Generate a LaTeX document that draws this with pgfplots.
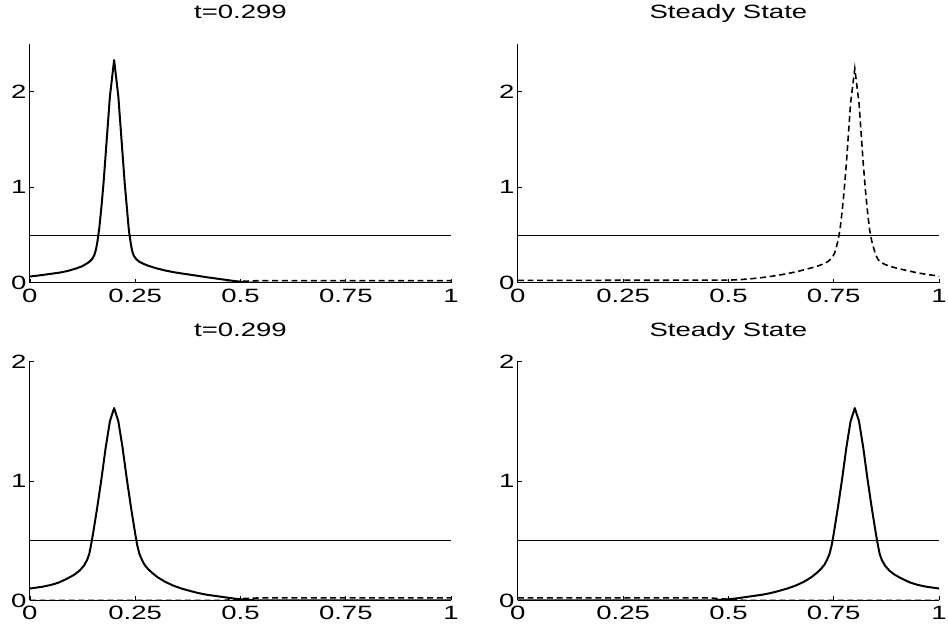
\documentclass[border=0pt]{standalone}
\usepackage{pgfplots}
\pgfplotsset{compat=1.18}
\usepackage{fontspec}
\setmainfont{Liberation Sans}[FakeStretch=1.43]

% solid: u, dashed: v
\pgfplotstableread{
x y
0.00 0.066
0.02 0.076
0.04 0.088
0.07 0.106
0.09 0.124
0.11 0.150
0.125 0.175
0.14 0.215
0.148 0.250
0.153 0.29
0.157 0.35
0.16 0.42
0.165 0.58
0.17 0.80
0.175 1.05
0.18 1.35
0.185 1.65
0.19 1.95
0.20 2.33
0.21 1.95
0.215 1.65
0.22 1.35
0.225 1.05
0.23 0.80
0.235 0.55
0.24 0.40
0.243 0.33
0.247 0.28
0.253 0.245
0.26 0.22
0.27 0.198
0.28 0.18
0.30 0.152
0.32 0.130
0.34 0.112
0.36 0.098
0.38 0.085
0.40 0.072
0.42 0.058
0.44 0.046
0.46 0.034
0.48 0.022
0.50 0.011
0.52 0.003
0.55 0
1.00 0
}\uTL
\pgfplotstableread{
x y
0.00 0
0.46 0
0.50 0.015
0.54 0.022
1.00 0.022
}\vTL
\pgfplotstableread{
x y
0.00 0
1.00 0
}\uTR
\pgfplotstableread{
x y
0.00 0.025
0.50 0.028
0.53 0.034
0.56 0.045
0.59 0.06
0.62 0.08
0.65 0.105
0.67 0.125
0.69 0.148
0.71 0.172
0.73 0.205
0.74 0.235
0.747 0.27
0.752 0.31
0.756 0.37
0.76 0.44
0.765 0.56
0.77 0.75
0.775 0.98
0.78 1.25
0.79 1.88
0.80 2.24
0.81 1.88
0.82 1.25
0.825 0.98
0.83 0.75
0.835 0.56
0.84 0.44
0.845 0.36
0.85 0.29
0.855 0.245
0.862 0.215
0.87 0.195
0.885 0.170
0.906 0.146
0.93 0.122
0.95 0.103
0.975 0.085
1.00 0.07
}\vTR
\pgfplotstableread{
x y
0.00 0.10
0.03 0.115
0.05 0.130
0.067 0.148
0.08 0.168
0.095 0.195
0.106 0.217
0.118 0.25
0.128 0.29
0.136 0.34
0.141 0.39
0.145 0.46
0.15 0.56
0.16 0.78
0.17 1.02
0.18 1.28
0.19 1.50
0.20 1.61
0.21 1.50
0.22 1.28
0.23 1.02
0.24 0.78
0.25 0.56
0.255 0.46
0.26 0.39
0.266 0.34
0.272 0.30
0.28 0.265
0.29 0.232
0.303 0.195
0.32 0.158
0.34 0.125
0.36 0.100
0.382 0.078
0.40 0.062
0.42 0.048
0.44 0.038
0.46 0.028
0.48 0.018
0.50 0.010
0.53 0.002
0.56 0
1.00 0
}\uBL
\pgfplotstableread{
x y
0.00 0
0.46 0
0.50 0.015
0.55 0.022
1.00 0.022
}\vBL
\pgfplotstableread{
x y
0.00 0
0.44 0
0.47 0.002
0.50 0.010
0.52 0.018
0.54 0.028
0.56 0.038
0.58 0.048
0.60 0.062
0.618 0.078
0.64 0.100
0.66 0.125
0.68 0.158
0.697 0.195
0.71 0.232
0.72 0.265
0.728 0.30
0.734 0.34
0.74 0.39
0.745 0.46
0.75 0.56
0.76 0.78
0.77 1.02
0.78 1.28
0.79 1.50
0.80 1.61
0.81 1.50
0.82 1.28
0.83 1.02
0.84 0.78
0.85 0.56
0.855 0.46
0.859 0.39
0.864 0.34
0.872 0.29
0.882 0.25
0.894 0.217
0.905 0.195
0.92 0.168
0.933 0.148
0.95 0.130
0.97 0.115
1.00 0.10
}\uBR
\pgfplotstableread{
x y
0.00 0.022
0.45 0.022
0.50 0.01
0.54 0
1.00 0
}\vBR

\pgfplotsset{
  pane/.style={
    scale only axis, width=317.25pt, height=180pt,
    anchor=north west,
    axis x line=bottom, axis y line=left,
    axis line style={-, line width=0.6pt},
    xmin=0, xmax=1, ymin=0,
    xtick={0,0.25,0.5,0.75,1},
    xticklabels={0,0.25,0.5,0.75,1},
    ytick={0,1,2},
    tick align=inside, major tick length=3pt,
    tick style={black, line width=0.5pt},
    /pgf/number format/assume math mode=true,
    ticklabel style={font=\fontsize{14.5}{17}\selectfont},
    xticklabel style={yshift=-1pt},
    yticklabel style={xshift=1pt},
    title style={at={(0.5,1)}, anchor=base, yshift=12.75pt,
      font=\fontsize{14.5}{17}\selectfont},
  },
  ucurve/.style={black, line width=1.5pt, line join=round},
  vcurve/.style={black, line width=1.2pt, dash pattern=on 4.5pt off 2.8pt},
  hline/.style={black, line width=0.6pt},
}

\begin{document}
\begin{tikzpicture}
\useasboundingbox (0,0) rectangle (714pt,-470.25pt);

\begin{axis}[pane, at={(22.5pt,-33pt)}, ymax=2.5, title={t=0.299}]
\addplot[hline] coordinates {(0,0.5) (1,0.5)};
\addplot[vcurve] table {\vTL};
\addplot[ucurve] table {\uTL};
\end{axis}

\begin{axis}[pane, at={(390pt,-33pt)}, ymax=2.5, title={Steady State}]
\addplot[hline] coordinates {(0,0.5) (1,0.5)};
\addplot[ucurve] table {\uTR};
\addplot[vcurve] table {\vTR};
\end{axis}

\begin{axis}[pane, at={(22.5pt,-272.25pt)}, ymax=2, title={t=0.299}]
\addplot[hline] coordinates {(0,0.5) (1,0.5)};
\addplot[vcurve] table {\vBL};
\addplot[ucurve] table {\uBL};
\end{axis}

\begin{axis}[pane, at={(390pt,-272.25pt)}, ymax=2, title={Steady State}]
\addplot[hline] coordinates {(0,0.5) (1,0.5)};
\addplot[vcurve] table {\vBR};
\addplot[ucurve] table {\uBR};
\end{axis}
\end{tikzpicture}
\end{document}
